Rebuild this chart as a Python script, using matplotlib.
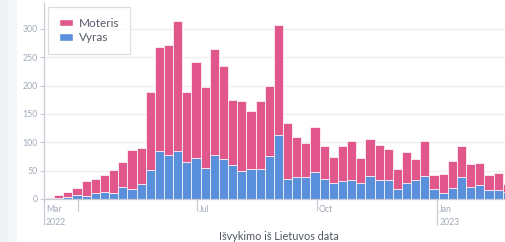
import numpy as np
import pandas as pd
import matplotlib
matplotlib.use("Agg")
import matplotlib.pyplot as plt
import matplotlib.dates as mdates
from matplotlib.patches import Rectangle, Patch

# weekly bins (Mondays) starting 2022-03-07
week_start = pd.date_range("2022-03-07", periods=51, freq="7D")

vyras = [0, 2, 3, 7, 6, 10, 12, 11, 22, 17, 27, 51, 84, 77, 85, 66, 72, 54, 78, 70,
         60, 50, 53, 53, 76, 113, 36, 39, 38, 47, 35, 28, 32, 34, 29, 40, 34, 33, 18, 29,
         34, 41, 18, 11, 19, 38, 21, 25, 15, 15, 12]
moteris = [1, 5, 10, 12, 26, 25, 31, 41, 44, 70, 63, 138, 184, 195, 229, 122, 170, 144, 186, 164,
           114, 122, 103, 119, 124, 193, 98, 70, 60, 80, 58, 46, 61, 69, 44, 65, 61, 56, 35, 54,
           37, 62, 24, 33, 48, 56, 40, 39, 27, 30, 14]

y_ticks = [0, 50, 100, 150, 200, 250, 300]
x_title = "Išvykimo iš Lietuvos data"

PINK = "#e1578b"
BLUE = "#5a8fdb"
GRID = "#eceef1"
TICK_COL = "#a3abb9"

plt.rcParams['font.family'] = ['Lato', 'DejaVu Sans']

W, H = 505, 242
fig = plt.figure(figsize=(W / 100, H / 100), dpi=100)

# light strip at the left edge
fig.patches.append(Rectangle((0, 0), 8 / W, 1, transform=fig.transFigure, color="#eef0f3", zorder=0))
fig.patches.append(Rectangle((8 / W, 0), 8 / W, 1, transform=fig.transFigure, color="#f5f6f8", zorder=0))

x0, x1, y0, y1 = 44, 505, 199, 3.3
ax = fig.add_axes([x0 / W, (H - y0) / H, (x1 - x0) / W, (y0 - y1) / H])
ax.set_facecolor("none")

ax.bar(week_start, vyras, width=7, align="edge", color=BLUE, edgecolor="#ffffff", linewidth=0.5, zorder=3)
ax.bar(week_start, moteris, width=7, align="edge", bottom=vyras, color=PINK, edgecolor="#ffffff", linewidth=0.5, zorder=3)

ax.set_xlim(pd.Timestamp("2022-03-06 05:00"), pd.Timestamp("2023-02-21 19:00"))
ax.set_ylim(0, 345)

ax.set_yticks(y_ticks)
ax.set_yticklabels([str(v) for v in y_ticks])
ax.tick_params(axis="y", length=3, width=0.8, color="#c6cbd4", labelcolor=TICK_COL, labelsize=6.3, pad=1.5)
ax.yaxis.grid(True, color=GRID, linewidth=1.0, zorder=0)

for s in ["top", "right"]:
    ax.spines[s].set_visible(False)
for s in ["left", "bottom"]:
    ax.spines[s].set_color("#c6cbd4")
    ax.spines[s].set_linewidth(0.9)
    ax.spines[s].set_zorder(4)

# x ticks: long ones carry year, short ones only month
long_ticks = [pd.Timestamp("2022-03-06 05:00"), pd.Timestamp("2023-01-01")]
short_ticks = [pd.Timestamp("2022-04-01"), pd.Timestamp("2022-07-01"), pd.Timestamp("2022-10-01")]
ax.set_xticks(long_ticks)
ax.set_xticks(short_ticks, minor=True)
ax.set_xticklabels([])
ax.tick_params(axis="x", which="major", length=19, width=0.9, color="#c6cbd4")
ax.tick_params(axis="x", which="minor", length=8.5, width=0.9, color="#c6cbd4")
ax.xaxis.set_minor_formatter(plt.NullFormatter())

month_labels = [("Mar", "2022", long_ticks[0]), ("Jul", None, short_ticks[1]),
                ("Oct", None, short_ticks[2]), ("Jan", "2023", long_ticks[1])]
for m, yr, d in month_labels:
    ax.annotate(m, xy=(mdates.date2num(d), 0), xycoords=("data", "axes fraction"),
                xytext=(1.5, -4), textcoords="offset points", ha="left", va="top",
                fontsize=6.3, color=TICK_COL)
    if yr:
        ax.annotate(yr, xy=(mdates.date2num(d), 0), xycoords=("data", "axes fraction"),
                    xytext=(1.5, -13.5), textcoords="offset points", ha="left", va="top",
                    fontsize=6.3, color=TICK_COL)

fig.text(279 / W, 1 - 236 / H, x_title, ha="center", va="center", fontsize=7.8, color="#505662")

handles = [Patch(facecolor=PINK, edgecolor="white", label="Moteris"),
           Patch(facecolor=BLUE, edgecolor="white", label="Vyras")]
leg = ax.legend(handles=handles, loc="upper left", bbox_to_anchor=(48 / W, 1 - 7 / H),
                bbox_transform=fig.transFigure, borderaxespad=0, fontsize=8.5, frameon=True,
                fancybox=False, edgecolor="#d3d7de", handlelength=1.2, handleheight=0.6,
                handletextpad=0.5, borderpad=0.9, labelspacing=0.3, labelcolor="#555b66")
leg.get_frame().set_linewidth(0.9)
leg.set_zorder(5)

fig.savefig("out.png", dpi=100)
